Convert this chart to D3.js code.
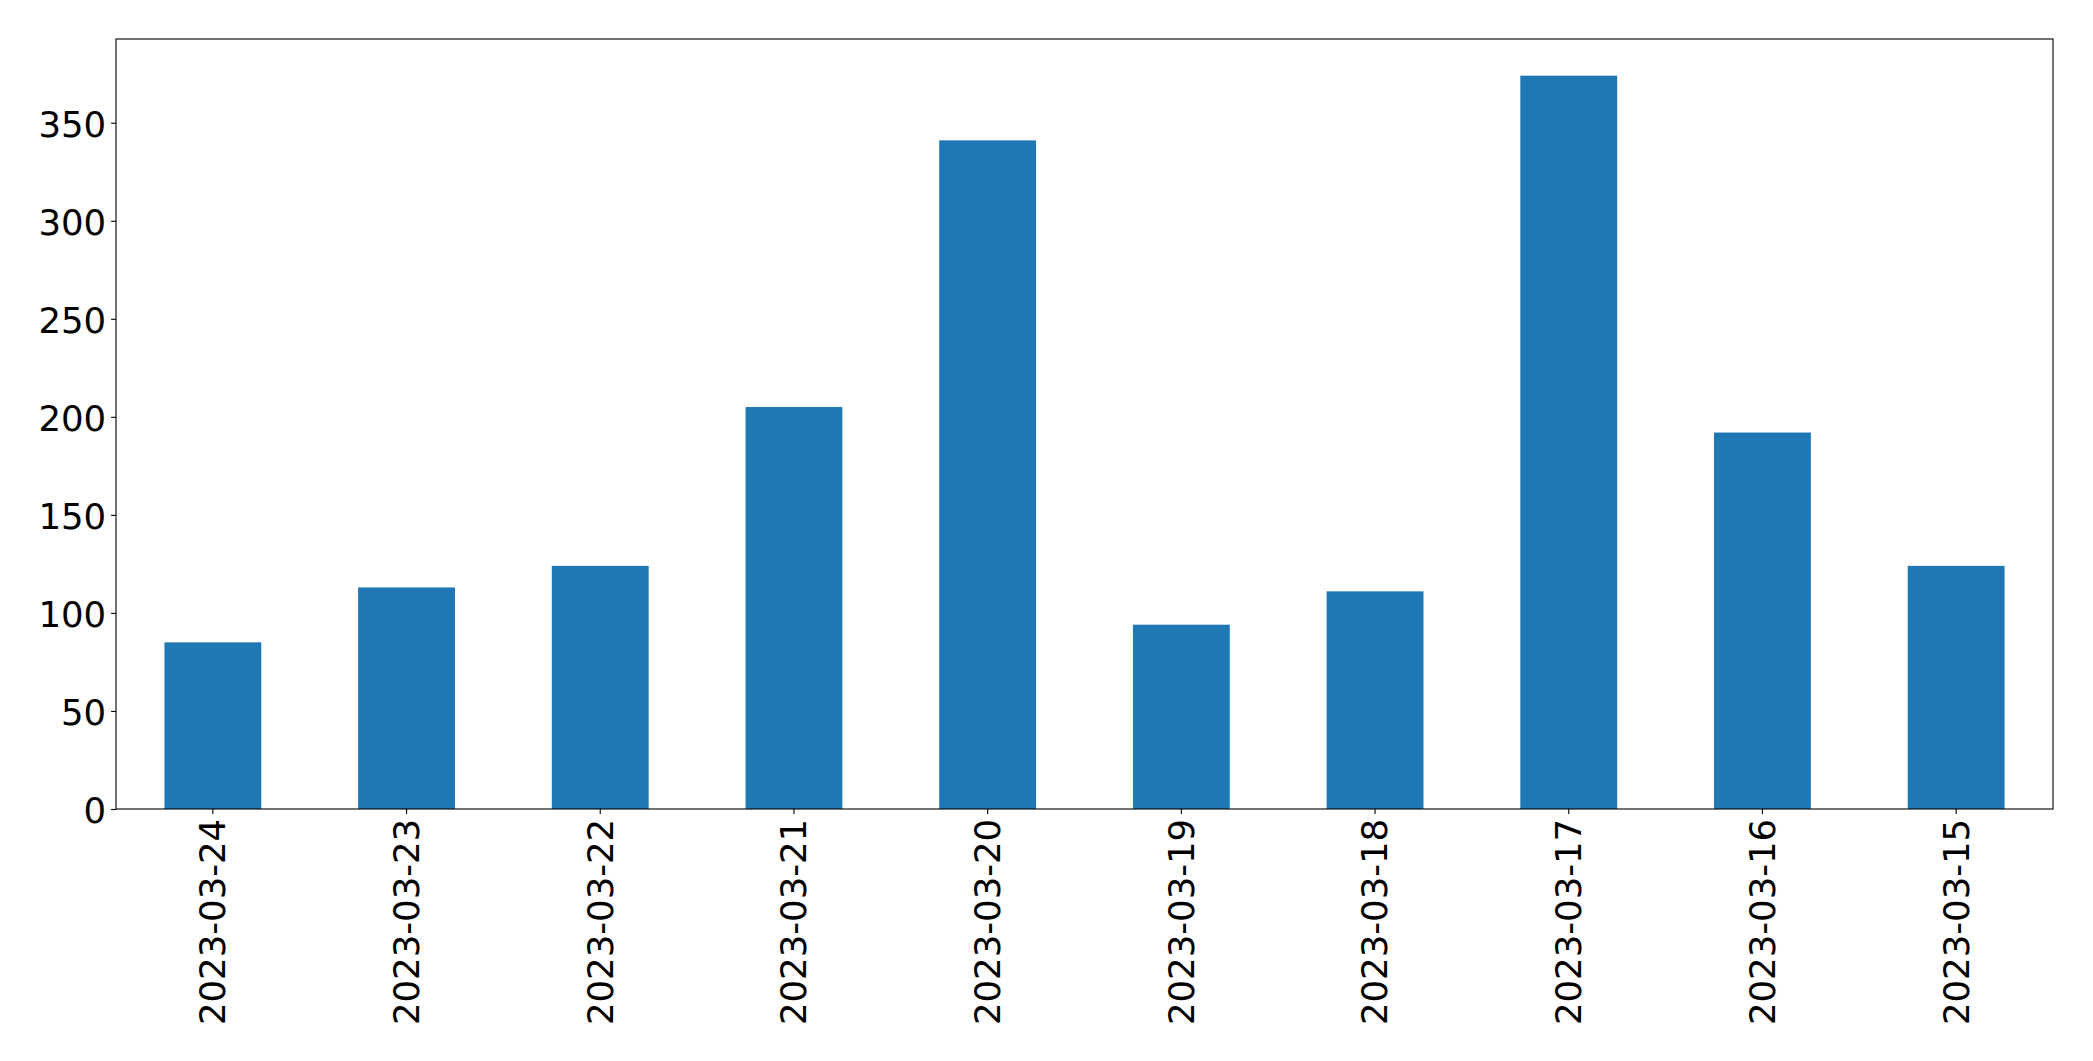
<!DOCTYPE html>
<html>
<head>
<meta charset="utf-8">
<script src="https://cdn.jsdelivr.net/npm/d3@7"></script>
<style>
  html, body { margin: 0; padding: 0; background: #fff; }
  svg { display: block; }
  text { font-family: "DejaVu Sans", sans-serif; fill: #000; }
</style>
</head>
<body>
<script>
const categories = ["2023-03-24","2023-03-23","2023-03-22","2023-03-21","2023-03-20","2023-03-19","2023-03-18","2023-03-17","2023-03-16","2023-03-15"];
const values = [85, 113, 124, 205, 341, 94, 111, 374, 192, 124];
const yTicks = [0, 50, 100, 150, 200, 250, 300, 350];

const W = 2093, H = 1061;
const margin = {left: 116, right: W - 2053, top: 39, bottom: H - 809};
const pw = W - margin.left - margin.right;
const ph = H - margin.top - margin.bottom;

const svg = d3.select("body").append("svg").attr("width", W).attr("height", H);
const g = svg.append("g").attr("transform", `translate(${margin.left},${margin.top})`);

const x = d3.scaleBand().domain(categories).range([0, pw]).paddingInner(0.5).paddingOuter(0.25);
const y = d3.scaleLinear().domain([0, d3.max(values) * 1.05]).range([ph, 0]);

g.selectAll("rect.bar").data(categories).join("rect")
  .attr("class", "bar")
  .attr("x", d => x(d))
  .attr("width", x.bandwidth())
  .attr("y", (d, i) => y(values[i]))
  .attr("height", (d, i) => ph - y(values[i]))
  .attr("fill", "#1f77b4");

const fs = "35.5px";

const yAxis = g.append("g")
  .call(d3.axisLeft(y).tickValues(yTicks).tickSize(4.9).tickPadding(4.9).tickFormat(d3.format("d")));
yAxis.select(".domain").remove();
yAxis.selectAll("text").style("font-size", fs).attr("font-family", "DejaVu Sans").attr("dy", "0.38em");
yAxis.selectAll("line").attr("stroke", "#000").attr("stroke-width", 1.1);

const xAxis = g.append("g").attr("transform", `translate(0,${ph})`)
  .call(d3.axisBottom(x).tickSize(4.9).tickPadding(4.9));
xAxis.select(".domain").remove();
xAxis.selectAll("line").attr("stroke", "#000").attr("stroke-width", 1.1);
xAxis.selectAll("text")
  .style("font-size", fs)
  .attr("font-family", "DejaVu Sans")
  .attr("transform", "rotate(-90)")
  .attr("x", -9.8)
  .attr("y", 0)
  .attr("dy", "0.35em")
  .style("text-anchor", "end");

g.append("rect")
  .attr("x", 0).attr("y", 0).attr("width", pw).attr("height", ph)
  .attr("fill", "none").attr("stroke", "#000").attr("stroke-width", 1.1);
</script>
</body>
</html>
